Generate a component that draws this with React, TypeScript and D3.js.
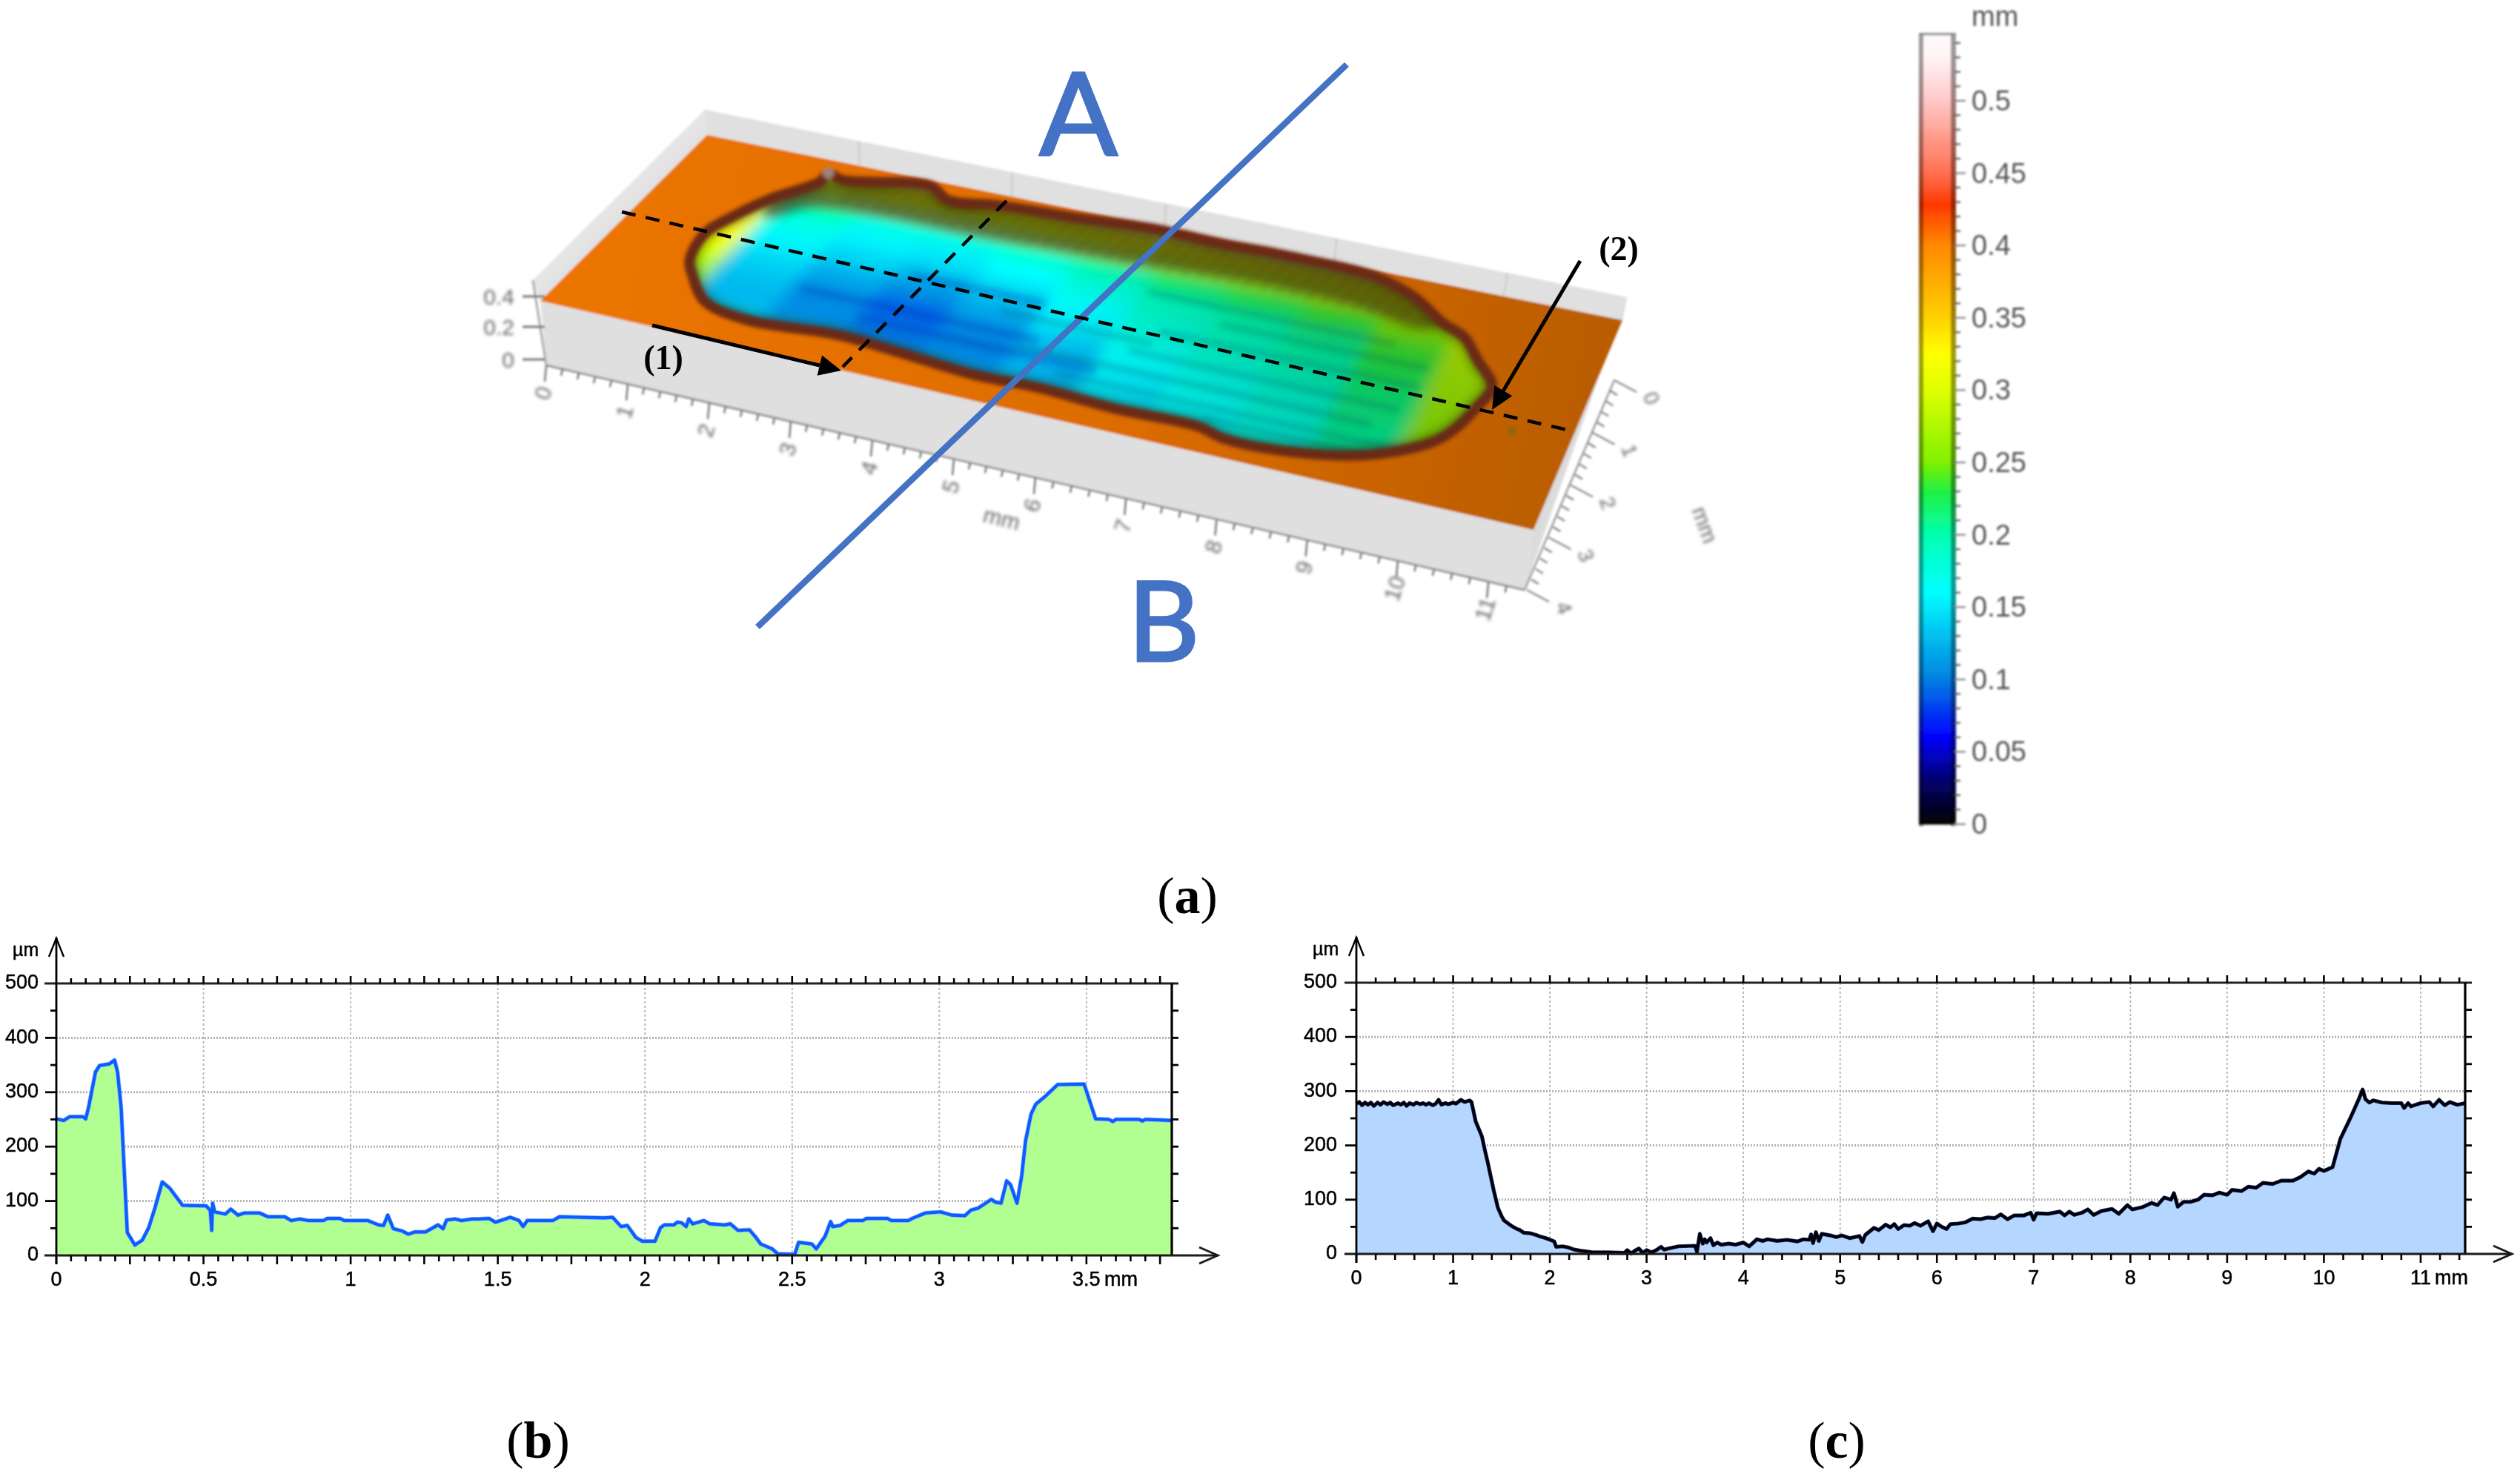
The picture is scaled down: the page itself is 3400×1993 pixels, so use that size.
import React from "react";
import * as d3 from "d3";

// ---------- Profile data (mm, µm) ----------
const profileB: [number, number][] = [
  [0,251],[.025,248],[.046,255],[.09,255],[.1,251],[.11,273],[.133,337],[.147,349],[.18,352],[.198,359],[.208,337],[.22,273],[.23,164],[.241,42],[.267,19],[.292,28],[.314,51],[.335,87],[.36,135],[.386,123],[.429,92],[.509,91],[.523,83],[.528,46],[.531,96],[.538,80],[.574,76],[.593,85],[.617,74],[.639,78],[.69,78],[.719,71],[.776,71],[.798,64],[.827,67],[.856,64],[.907,64],[.921,68],[.964,68],[.979,64],[1.058,64],[1.095,56],[1.112,55],[1.126,74],[1.145,49],[1.174,45],[1.196,39],[1.217,43],[1.254,43],[1.297,56],[1.314,49],[1.326,65],[1.355,67],[1.376,64],[1.413,67],[1.434,67],[1.47,68],[1.492,61],[1.543,70],[1.572,64],[1.586,53],[1.6,64],[1.687,64],[1.709,71],[1.861,69],[1.89,70],[1.919,53],[1.94,55],[1.969,33],[1.991,26],[2.034,26],
  [2.053,51],[2.066,56],[2.098,56],[2.11,61],[2.124,60],[2.14,53],[2.149,67],[2.162,58],[2.2,64],[2.22,58],[2.271,56],[2.29,58],[2.316,46],[2.355,47],[2.374,35],[2.393,21],[2.432,12],[2.451,3],[2.509,2],[2.522,24],[2.567,21],[2.582,12],[2.612,35],[2.631,62],[2.638,53],[2.663,55],[2.689,64],[2.74,64],[2.753,68],[2.824,68],[2.837,64],[2.895,64],[2.908,68],[2.953,78],[3.004,80],[3.043,74],[3.087,73],[3.107,83],[3.132,87],[3.177,103],[3.19,98],[3.21,96],[3.229,137],[3.242,130],[3.264,96],[3.28,146],[3.293,210],[3.312,260],[3.328,278],[3.357,291],[3.402,314],[3.492,315],[3.531,251],[3.576,250],[3.59,246],[3.6,250],[3.679,250],[3.69,247],[3.7,250],[3.788,248],
];
const profileC: [number, number][] = [
  [0,277],[.03,280],[.06,274],[.09,279],[.12,275],[.15,279],[.18,273],[.22,279],[.25,275],[.28,280],[.32,276],[.35,279],[.38,274],[.43,278],[.46,275],[.49,279],[.52,273],[.55,278],[.59,275],[.62,279],[.66,276],[.69,278],[.72,275],[.75,278],[.79,274],[.82,277],[.85,284],[.88,275],[.92,278],[.95,276],[1.0,279],[1.03,277],[1.08,284],[1.12,280],[1.17,283],[1.19,280],[1.234,244],[1.297,217],[1.33,190],[1.36,167],[1.42,117],[1.463,85],[1.5,70],[1.525,62],[1.57,56],[1.61,51],[1.66,46],[1.69,44],[1.73,39],[1.8,38],[1.858,35],[1.9,32],[1.96,29],[2.045,23],[2.065,13],[2.13,14],[2.19,12],[2.25,8],[2.315,6],[2.4,4],[2.44,3],[2.6,3],[2.77,2],[2.8,7],[2.84,1],[2.88,6],[2.92,10],[2.96,2],[3.0,7],[3.05,3],[3.1,7],[3.15,13],[3.18,8],[3.25,11],[3.33,14],[3.5,15],[3.52,4],[3.55,37],[3.58,19],[3.6,27],[3.62,21],[3.66,29],[3.69,16],[3.73,21],[3.77,17],[3.85,19],[3.92,17],[4.0,21],[4.06,14],[4.14,27],[4.2,24],[4.25,27],[4.35,24],[4.45,26],[4.56,23],[4.62,27],[4.68,26],[4.7,36],[4.72,20],[4.75,40],[4.78,24],[4.81,37],[4.9,34],[4.96,31],[5.02,34],[5.1,29],[5.2,33],[5.23,22],[5.26,35],[5.35,48],[5.4,44],[5.47,54],[5.52,49],[5.56,55],[5.6,46],[5.66,53],[5.72,52],[5.77,57],[5.83,52],[5.91,60],[5.96,42],[6.0,56],[6.05,50],[6.1,46],[6.14,55],[6.22,56],[6.29,58],[6.37,65],[6.45,64],[6.52,67],[6.6,66],[6.66,73],[6.73,64],[6.8,71],[6.9,71],[6.97,76],[7.0,63],[7.03,75],[7.15,74],[7.27,78],[7.32,71],[7.37,78],[7.42,72],[7.5,76],[7.56,82],[7.62,72],[7.7,79],[7.81,83],[7.88,74],[7.97,90],[8.02,82],[8.12,86],[8.22,94],[8.28,90],[8.35,104],[8.42,100],[8.45,112],[8.49,87],[8.55,96],[8.62,96],[8.7,100],[8.76,109],[8.85,108],[8.92,113],[9.0,109],[9.05,118],[9.15,116],[9.22,124],[9.3,122],[9.37,131],[9.47,129],[9.56,135],[9.68,135],[9.76,142],[9.84,152],[9.9,148],[9.95,157],[10.0,153],[10.09,160],[10.17,212],[10.28,253],[10.36,285],[10.4,303],[10.43,285],[10.47,279],[10.51,283],[10.6,279],[10.7,278],[10.8,278],[10.83,269],[10.87,278],[10.9,272],[11.0,278],[11.09,280],[11.13,272],[11.19,284],[11.25,274],[11.3,280],[11.38,275],[11.46,278],
];
const yTicks = [0, 100, 200, 300, 400, 500];
const xTicksB = [0, 0.5, 1, 1.5, 2, 2.5, 3, 3.5];
const xTicksC = [0, 1, 2, 3, 4, 5, 6, 7, 8, 9, 10, 11];

// ---------- Surface data (mm on the sample plane) ----------
const basinRim: [number, number][] = [
  [1.05,1.38],[.95,1.92],[1.08,2.39],[1.29,2.85],[1.64,3.36],[1.64,3.55],[1.84,3.47],[2.84,3.69],[3.15,3.5],[3.72,3.59],[4.65,3.65],[5.62,3.74],[6.41,3.72],[7.25,3.74],[8.41,3.68],[8.96,3.46],[9.41,3.13],[9.72,2.97],[10.0,2.62],[10.29,2.24],[10.24,1.86],[10.0,1.17],[9.34,.63],[8.52,.38],[7.75,.34],[7.4,.45],[6.44,.43],[5.53,.49],[4.8,.46],[3.86,.56],[3.15,.62],[2.12,.52],[1.56,.69],[1.21,1.12],
];
const upperWall: [number, number][] = [
  [1.29,2.85],[1.64,3.36],[1.84,3.47],[2.84,3.69],[3.72,3.59],[5.62,3.74],[7.25,3.74],[8.41,3.68],[8.96,3.46],[9.41,3.13],[9.2,2.95],[8.4,3.1],[7.2,3.15],[5.6,3.05],[3.7,2.95],[2.6,2.95],[1.8,2.85],[1.4,2.5],
];
const surfaceCols = [.91,1.83,2.74,3.65,4.57,5.48,6.4,7.31,8.22,9.14,10.05,10.73];
const surfaceRows = [3.61,3.23,2.85,2.47,2.09,1.71,1.33,.95,.57,.19];
const surfaceHeights = [
  [.33,.31,.31,.31,.31,.31,.31,.31,.31,.31,.32,.33],
  [.33,.27,.27,.27,.27,.27,.27,.27,.28,.29,.31,.33],
  [.31,.2,.175,.175,.185,.2,.215,.225,.235,.25,.29,.33],
  [.325,.17,.155,.15,.16,.175,.19,.2,.21,.235,.28,.32],
  [.325,.155,.14,.13,.14,.16,.18,.19,.2,.225,.275,.32],
  [.3,.14,.12,.105,.12,.15,.17,.18,.19,.215,.27,.32],
  [.27,.13,.105,.09,.105,.13,.16,.17,.18,.21,.265,.31],
  [.26,.125,.105,.095,.1,.12,.15,.165,.175,.205,.265,.31],
  [.24,.135,.115,.105,.11,.125,.145,.155,.17,.2,.26,.31],
  [.24,.14,.125,.12,.12,.13,.145,.155,.165,.19,.26,.31],
];
const streaks: [number, number, number][] = [
  [2.4,5.2,1.32],[3.2,6.0,1.02],[3.4,5.0,2.0],[4.6,6.4,1.7],[5.0,9.2,1.15],[5.6,9.6,.82],[6.2,9.4,1.5],[6.4,9.5,1.95],[7.0,9.5,2.3],[7.4,9.6,.62],[6.0,9.0,2.6],
];
const colorStops = [0,.03,.06,.1,.16,.2,.23,.25,.3,.325,.35,.4,.428,.45,.5,.53,.546];
const colorValues = ["#000000","#000070","#0000ff","#0080e0","#00ffff","#00ffb0","#20f040","#80f000","#e0ff00","#ffff00","#ffd000","#ff8800","#ff3800","#ff7050","#ffc8c8","#fff4f4","#fffafa"];
const barLabels = [0,.05,.1,.15,.2,.25,.3,.35,.4,.45,.5];
const frontLabels = [0,1,2,3,4,5,6,7,8,9,10,11];
const sideLabels = [0,1,2,3,4];

const colorScale = d3.scaleLinear<string>().domain(colorStops).range(colorValues).clamp(true);

// ---------- Scene geometry ----------
type Pt = [number, number];
const FL: Pt = [729,406], FR: Pt = [2069,715], BL: Pt = [954,182], BR: Pt = [2189,432];
const FLB: Pt = [737,493], FRB: Pt = [2057,796], BLT: Pt = [951,148], BRT: Pt = [2195,401], FLT: Pt = [719,378];
const uOf = d3.scaleLinear().domain([0,11.42]).range([0,1]);
const vOf = d3.scaleLinear().domain([0,3.8]).range([0,1]);
const tickU = d3.scaleLinear().domain([0,6,11]).range([0,.5,.963]);
const mix = (a: Pt, b: Pt, t: number): Pt => [a[0]+(b[0]-a[0])*t, a[1]+(b[1]-a[1])*t];
const project = (x: number, y: number): Pt => {
  const u = uOf(x), v = vOf(y);
  return mix(mix(FL,FR,u), mix(BL,BR,u), v);
};
const poly = (pts: Pt[]) => pts.map(p => p.join(",")).join(" ");
const SERIF = "'Liberation Serif', serif";
const SANS = "'Liberation Sans', sans-serif";

function Arrow({a, b, w = 5}: {a: Pt; b: Pt; w?: number}) {
  const ang = Math.atan2(b[1]-a[1], b[0]-a[0]);
  const L = 30, H = 14;
  const base: Pt = [b[0]-L*Math.cos(ang), b[1]-L*Math.sin(ang)];
  const n: Pt = [-Math.sin(ang), Math.cos(ang)];
  return <g>
    <line x1={a[0]} y1={a[1]} x2={base[0]} y2={base[1]} stroke="#000" strokeWidth={w}/>
    <polygon fill="#000" points={poly([b,[base[0]+n[0]*H,base[1]+n[1]*H],[base[0]-n[0]*H,base[1]-n[1]*H]])}/>
  </g>;
}

function Surface() {
  const closed = d3.line().curve(d3.curveCatmullRomClosed.alpha(.5));
  const rimD = closed(basinRim.map(d=>project(d[0],d[1])))!;
  const wallD = closed(upperWall.map(d=>project(d[0],d[1])))!;
  const colEdges = [0, ...d3.pairs(surfaceCols).map(([a,b])=>(a+b)/2), 11.42];
  const rowEdges = [3.8, ...d3.pairs(surfaceRows).map(([a,b])=>(a+b)/2), 0];
  const frontAt = (m: number) => mix(FLB,FRB,tickU(m));
  const sideBase = d3.scaleLinear().domain([0,4]).range([0,1]);
  const sideAt = (k: number) => mix([2178,513],[2060,796],sideBase(k));
  const ribs = d3.range(2.2,9.2,.19);
  const rib0 = project(1.64,3.55);
  return <g>
    <g filter="url(#blur3d)">
      <polygon points={poly([FLT,BLT,BL,FL])} fill="url(#leftWall)"/>
      <polygon points={poly([BLT,BRT,BR,BL])} fill="#e0e0e0"/>
      {[2,4,6,8,10].map(k=>{const u=tickU(k);const a=mix(BLT,BRT,u),b=mix(BL,BR,u);return <line key={k} x1={a[0]} y1={a[1]} x2={b[0]} y2={b[1]} stroke="#c8c8c8" strokeWidth={2}/>;})}
      <polygon points={poly([FL,FR,FRB,FLB])} fill="#dfdfdf"/>
      <polygon points={poly([BRT,FRB,FR,BR])} fill="url(#rightWall)"/>
      <polygon points={poly([FL,FR,BR,BL])} fill="url(#plane)"/>
      <circle cx={2040} cy={582} r={6} fill="#7a6a10" opacity={.7}/>
      <line x1={FLT[0]} y1={FLT[1]} x2={FLB[0]} y2={FLB[1]} stroke="#aaa" strokeWidth={3}/>
      <line x1={FLB[0]} y1={FLB[1]} x2={FRB[0]} y2={FRB[1]} stroke="#888" strokeWidth={2.5}/>
      <line x1={FRB[0]} y1={FRB[1]} x2={2178} y2={513} stroke="#999" strokeWidth={2.5}/>
      {d3.range(0,11.21,.2).map(m=>{const p=frontAt(m);const major=Math.abs(m-Math.round(m))<.01;return <line key={m} x1={p[0]} y1={p[1]} x2={p[0]-2} y2={p[1]+(major?22:9)} stroke="#777" strokeWidth={2.5}/>;})}
      {d3.range(0,4.01,.2).map(k=>{const p=sideAt(k);const major=Math.abs(k-Math.round(k))<.01;return <line key={k} x1={p[0]} y1={p[1]} x2={p[0]+(major?30:10)} y2={p[1]+(major?16:6)} stroke="#888" strokeWidth={2.5}/>;})}
      {[403,444,488].map(y=><line key={y} x1={705} y1={y-3} x2={735} y2={y-3} stroke="#777" strokeWidth={3}/>)}
    </g>
    <g filter="url(#blurLabels)" fontFamily={SANS} fill="#666" textAnchor="middle" dominantBaseline="middle">
      {frontLabels.map(k=>{const p=frontAt(k);return <text key={k} x={p[0]-2} y={p[1]+38} fontSize={30} transform={`rotate(-72 ${p[0]-2} ${p[1]+38})`}>{k}</text>;})}
      <text x={1351} y={702} fontSize={30} transform="rotate(14 1351 702)">mm</text>
      {sideLabels.map(k=>{const p=sideAt(k);const lx=p[0]+48,ly=p[1]+25;return <text key={k} x={lx} y={ly} fontSize={28} transform={`rotate(70 ${lx} ${ly})`}>{k}</text>;})}
      <text x={2298} y={709} fontSize={30} transform="rotate(70 2298 709)">mm</text>
      <g textAnchor="end">
        <text x={694} y={403} fontSize={30}>0.4</text>
        <text x={694} y={444} fontSize={30}>0.2</text>
        <text x={694} y={488} fontSize={30}>0</text>
      </g>
    </g>
    <g clipPath="url(#basinClip)">
      <g filter="url(#blurSurf)">
        <rect x={850} y={180} width={1250} height={480} fill={colorScale(.17)}/>
        {surfaceHeights.map((row,r)=>row.map((h,c)=>{
          const x0=colEdges[c],x1=colEdges[c+1],y0=rowEdges[r],y1=rowEdges[r+1];
          return <polygon key={`${r}-${c}`} fill={colorScale(h)} points={poly([project(x0,y0),project(x1,y0),project(x1,y1),project(x0,y1)])}/>;
        }))}
      </g>
      <rect x={1400} y={250} width={700} height={400} fill="url(#surfaceShade)"/>
      <g filter="url(#blurStreakSoft)">
        {streaks.map(([a,b,y],i)=>{const p=project(a,y),q=project(b,y);return <line key={i} x1={p[0]} y1={p[1]} x2={q[0]} y2={q[1]} stroke={a<4?"#0040b0":"#04505a"} strokeWidth={a<4?11:6} opacity={.32}/>;})}
      </g>
      <path d={wallD} fill="#3a2a08" opacity={.62} filter="url(#blurWall)"/>
      <g filter="url(#blurStreakSoft)">
        {ribs.map(m=>{const a=project(m,3.6),b=project(m-.15,3.05);return <line key={m} x1={a[0]} y1={a[1]} x2={b[0]} y2={b[1]} stroke="#2a2000" strokeWidth={7} opacity={.12}/>;})}
      </g>
      <path d={rimD} fill="none" stroke="#2e2010" strokeWidth={22} opacity={.5} filter="url(#blurWall)"/>
    </g>
    <g filter="url(#blurRim)">
      <path d={rimD} fill="none" stroke="#6b2c16" strokeWidth={14}/>
      <circle cx={rib0[0]} cy={rib0[1]} r={8} fill="#b5a5a5" opacity={.7}/>
    </g>
  </g>;
}

function Profile({data, maxX, x0, x1, y500, y0, arrowTip, fill, line, halo, xTicks, minorStep, majorStep, lineW, labelR, mmX}: any) {
  const x = d3.scaleLinear().domain([0,maxX]).range([x0,x1]);
  const y = d3.scaleLinear().domain([0,500]).range([y0,y500]);
  const area = d3.area<[number,number]>().x(d=>x(d[0])).y0(y(0)).y1(d=>y(d[1]))(data)!;
  const ln = d3.line<[number,number]>().x(d=>x(d[0])).y(d=>y(d[1]))(data)!;
  const minors = d3.range(minorStep, maxX, minorStep);
  const isMajor = (v: number) => Math.abs(v/majorStep-Math.round(v/majorStep))<1e-6;
  return <g filter="url(#blurPlot)">
    {[100,200,300,400].map(v=><line key={v} x1={x0} x2={x1} y1={y(v)} y2={y(v)} stroke="#b4b4b4" strokeWidth={3} strokeDasharray="2 2"/>)}
    {xTicks.filter((t:number)=>t>0).map((t:number)=><line key={t} x1={x(t)} x2={x(t)} y1={y500} y2={y0} stroke="#b4b4b4" strokeWidth={1.8} strokeDasharray="3 3"/>)}
    <path d={area} fill={fill}/>
    <path d={ln} fill="none" stroke={halo} strokeWidth={lineW+1.6} strokeLinejoin="round"/>
    <path d={ln} fill="none" stroke={line} strokeWidth={lineW} strokeLinejoin="round"/>
    <line x1={x0-16} x2={x1+9} y1={y500} y2={y500} stroke="#222" strokeWidth={3}/>
    <line x1={x0} x2={x0} y1={y0+12} y2={y500-62} stroke="#000" strokeWidth={2.8}/>
    <line x1={x1} x2={x1} y1={y500} y2={y0} stroke="#000" strokeWidth={3.2}/>
    <line x1={x0-16} x2={arrowTip} y1={y0} y2={y0} stroke="#1a1a1a" strokeWidth={3}/>
    <polyline points={poly([[x0-10,y500-36],[x0,y500-61],[x0+10,y500-36]])} fill="none" stroke="#000" strokeWidth={2.4}/>
    <polyline points={poly([[arrowTip-25,y0-11],[arrowTip,y0],[arrowTip-25,y0+11]])} fill="none" stroke="#1a1a1a" strokeWidth={3}/>
    {minors.map((t:number)=>{const M=isMajor(t);return <g key={t} stroke="#000" strokeWidth={2.6}>
      <line x1={x(t)} x2={x(t)} y1={y500} y2={y500-(M?10:7)}/>
      <line x1={x(t)} x2={x(t)} y1={y0} y2={y0+(M?12:8)}/>
    </g>;})}
    <line x1={x0} x2={x0} y1={y0} y2={y0+12} stroke="#000" strokeWidth={2.6}/>
    {d3.range(0,501,50).map(v=><g key={v} stroke="#000" strokeWidth={2.8}>
      {v>0&&v<500&&<line x1={x0} x2={x0-(v%100===0?15:8)} y1={y(v)} y2={y(v)}/>}
      {v>0&&v<500&&<line x1={x1} x2={x1+9} y1={y(v)} y2={y(v)}/>}
    </g>)}
    <g fontFamily={SANS} fontSize={27} fill="#000" stroke="#000" strokeWidth={.5}>
      {yTicks.map(v=><text key={v} x={x0-labelR} y={y(v)} textAnchor="end" dominantBaseline="middle">{v}</text>)}
      {xTicks.map((t:number)=><text key={t} x={x(t)} y={y0+34} textAnchor="middle" dominantBaseline="middle">{t}</text>)}
      <text x={mmX} y={y0+34} dominantBaseline="middle">mm</text>
      <text x={x0-59} y={y500-44} fontSize={25} dominantBaseline="middle">µm</text>
    </g>
  </g>;
}

function ColorBar() {
  const yS = d3.scaleLinear().domain([0,.5]).range([1112,136]);
  const values = d3.range(0,.546,.001);
  const ticks = d3.range(0,.5451,.01);
  return <g filter="url(#blurBar)">
    {values.map(v=><rect key={v} x={2589} width={50} y={yS(v+.001)} height={yS(v)-yS(v+.001)+.6} fill={colorScale(v)}/>)}
    <rect x={2589} y={45} width={6} height={1070} fill="#000" opacity={.38}/>
    <rect x={2632} y={45} width={7} height={1070} fill="#000" opacity={.38}/>
    <line x1={2589} x2={2639} y1={46} y2={46} stroke="#888" strokeWidth={3}/>
    {ticks.map(v=>{const M=Math.round(v*100)%5===0;return <line key={v} x1={2637} x2={M?2652:2645} y1={yS(v)} y2={yS(v)} stroke={M?"#777":"#444"} strokeWidth={2}/>;})}
    <g fontFamily={SANS} fontSize={38} fill="#555" dominantBaseline="middle">
      {barLabels.map(v=><text key={v} x={2660} y={yS(v)+3}>{v}</text>)}
      <text x={2660} y={25}>mm</text>
    </g>
  </g>;
}

function PanelLabel({x, t}: {x: number; t: string}) {
  const y = t === "a" ? 1232 : 1967;
  return <text x={x} y={y} fontFamily={SERIF} fontSize={70} textAnchor="middle" fill="#000">(<tspan fontWeight="bold">{t}</tspan>)</text>;
}

export default function App() {
  const rimPts = basinRim.map(d=>project(d[0],d[1]));
  const rimD = d3.line().curve(d3.curveCatmullRomClosed.alpha(.5))(rimPts)!;
  return <svg width={3400} height={1993} viewBox="0 0 3400 1993" style={{position:"absolute",left:0,top:0,display:"block",background:"#fff"}}>
    <defs>
      <filter id="blur3d" x="-5%" y="-5%" width="110%" height="110%"><feGaussianBlur stdDeviation="1.6"/></filter>
      <filter id="blurLabels" x="-5%" y="-5%" width="110%" height="110%"><feGaussianBlur stdDeviation="2"/></filter>
      <filter id="blurSurf" x="-10%" y="-10%" width="120%" height="120%"><feGaussianBlur stdDeviation="10"/></filter>
      <filter id="blurWall" x="-10%" y="-20%" width="120%" height="140%"><feGaussianBlur stdDeviation="7"/></filter>
      <filter id="blurStreakSoft" x="-10%" y="-50%" width="120%" height="200%"><feGaussianBlur stdDeviation="4"/></filter>
      <filter id="blurRim" x="-5%" y="-5%" width="110%" height="110%"><feGaussianBlur stdDeviation="2.5"/></filter>
      <filter id="blurPlot" x="-2%" y="-5%" width="104%" height="110%"><feGaussianBlur stdDeviation=".7"/></filter>
      <filter id="blurBar" x="-20%" y="-2%" width="140%" height="104%"><feGaussianBlur stdDeviation="1.4"/></filter>
      <clipPath id="basinClip"><path d={rimD}/></clipPath>
      <linearGradient id="plane" gradientUnits="userSpaceOnUse" x1={800} y1={300} x2={2150} y2={600}>
        <stop offset="0" stopColor="#ec7400"/><stop offset=".55" stopColor="#dc6c00"/><stop offset="1" stopColor="#b85c02"/>
      </linearGradient>
      <linearGradient id="leftWall" gradientUnits="userSpaceOnUse" x1={700} y1={300} x2={800} y2={400}>
        <stop offset="0" stopColor="#f2f2f2"/><stop offset="1" stopColor="#d9d9d9"/>
      </linearGradient>
      <linearGradient id="rightWall" gradientUnits="userSpaceOnUse" x1={2070} y1={600} x2={2180} y2={640}>
        <stop offset="0" stopColor="#cfcfcf"/><stop offset="1" stopColor="#eeeeee"/>
      </linearGradient>
      <linearGradient id="surfaceShade" gradientUnits="userSpaceOnUse" x1={1400} y1={0} x2={1800} y2={0}>
        <stop offset="0" stopColor="#000" stopOpacity="0"/><stop offset="1" stopColor="#002010" stopOpacity=".22"/>
      </linearGradient>
    </defs>
    <Surface/>
    <line x1={1022} y1={846} x2={1817} y2={87} stroke="#4472c4" strokeWidth={8.5}/>
    <line x1={839} y1={286} x2={2123} y2={582} stroke="#000" strokeWidth={4.5} strokeDasharray="19 14"/>
    <line x1={1358} y1={271} x2={1137} y2={495} stroke="#000" strokeWidth={4.5} strokeDasharray="19 14"/>
    <Arrow a={[880,439]} b={[1135,500]}/>
    <Arrow a={[2132,352]} b={[2013,553]}/>
    <g fontFamily={SERIF} fontWeight="bold" fontSize={46} textAnchor="middle" dominantBaseline="middle" fill="#000">
      <text x={895} y={487}>(1)</text>
      <text x={2184} y={340}>(2)</text>
    </g>
    <g fontFamily="Lato, sans-serif" fill="#4472c4" stroke="#4472c4" strokeWidth={3} textAnchor="middle">
      <text x={1455} y={209} fontSize={156}>A</text>
      <text x={1570} y={892} fontSize={150}>B</text>
    </g>
    <ColorBar/>
    <Profile data={profileB} maxX={3.79} x0={76} x1={1581} y500={1327} y0={1694} arrowTip={1643} fill="#b0ff90" line="#0a5cff" halo="#8db8ff" xTicks={xTicksB} minorStep={.05} majorStep={.25} lineW={4.2} labelR={24} mmX={1490}/>
    <Profile data={profileC} maxX={11.46} x0={1830} x1={3326} y500={1326} y0={1692} arrowTip={3389} fill="#b5d6ff" line="#000" halo="#1a2a70" xTicks={xTicksC} minorStep={.2} majorStep={1} lineW={3.6} labelR={26} mmX={3285}/>
    <PanelLabel x={1602} t="a"/>
    <PanelLabel x={726} t="b"/>
    <PanelLabel x={2478} t="c"/>
  </svg>;
}
